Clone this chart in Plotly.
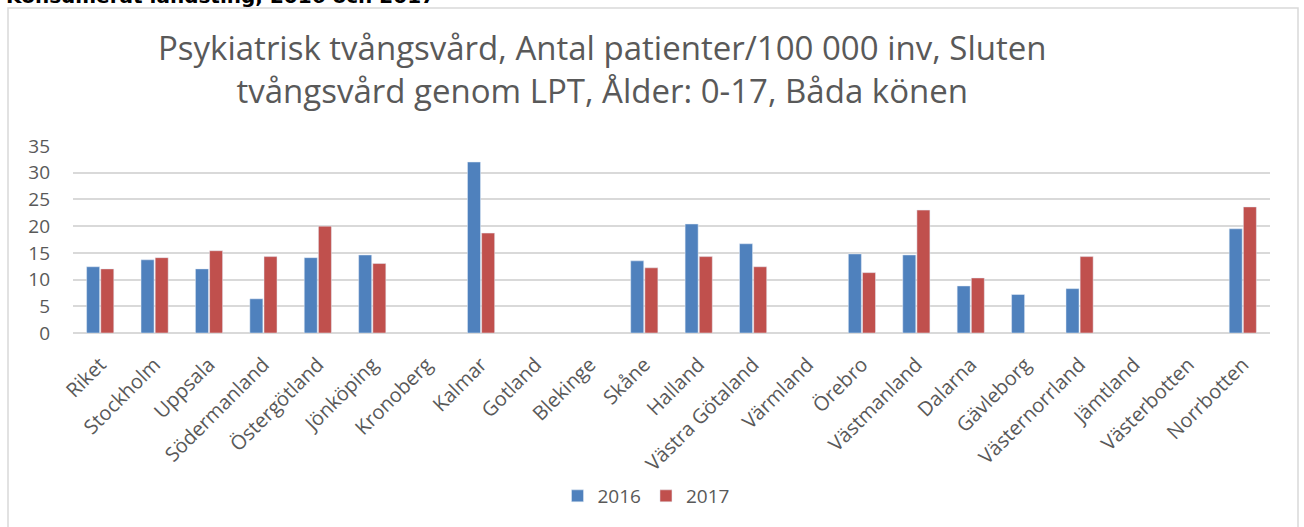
import plotly.graph_objects as go

# Landsting (kategorier)
landsting = ["Riket", "Stockholm", "Uppsala", "Södermanland", "Östergötland", "Jönköping",
             "Kronoberg", "Kalmar", "Gotland", "Blekinge", "Skåne", "Halland",
             "Västra Götaland", "Värmland", "Örebro", "Västmanland", "Dalarna",
             "Gävleborg", "Västernorrland", "Jämtland", "Västerbotten", "Norrbotten"]

# Antal patienter/100 000 inv
v2016 = [12.4, 13.7, 12.0, 6.4, 14.1, 14.6, None, 32.0, None, None, 13.5, 20.4,
         16.7, None, 14.8, 14.6, 8.8, 7.2, 8.3, None, None, 19.5]
v2017 = [12.0, 14.1, 15.4, 14.3, 20.0, 13.0, None, 18.7, None, None, 12.2, 14.3,
         12.4, None, 11.3, 23.0, 10.3, None, 14.3, None, None, 23.6]

y_ticks = [0, 5, 10, 15, 20, 25, 30, 35]

W, H = 1304, 527
L, R, T, B = 73, 34, 146, 194
pw, ph = W - L - R, H - T - B

def px_x(p):
    return (p - L) / pw

def px_y(p):
    return (H - B - p) / ph

txt = "#595959"
font = "Open Sans, Liberation Sans, Arial"

fig = go.Figure()
fig.add_trace(go.Bar(x=landsting, y=v2016, name="2016", marker_color="#4f81bd"))
fig.add_trace(go.Bar(x=landsting, y=v2017, name="2017", marker_color="#c0504d"))

fig.update_layout(
    width=W, height=H,
    margin=dict(l=L, r=R, t=T, b=B),
    paper_bgcolor="white", plot_bgcolor="white",
    barmode="group", bargap=0.48, bargroupgap=0.08,
    font=dict(family=font, color=txt, size=18),
    showlegend=True,
    legend=dict(orientation="h", x=px_x(646), xanchor="center", y=px_y(496), yanchor="middle",
                font=dict(size=19, color=txt), itemwidth=30, traceorder="normal"),
    xaxis=dict(tickangle=-45, showgrid=False, showline=False, ticks="", ticklabelstandoff=15,
               tickfont=dict(size=20, color=txt)),
    yaxis=dict(range=[0, 35], tickvals=y_ticks, showgrid=True, gridcolor="#d9d9d9",
               gridwidth=2, zeroline=True, zerolinecolor="#d9d9d9", zerolinewidth=2,
               showline=False, ticks="", ticklabelstandoff=22,
               tickfont=dict(size=19, color=txt)),
)

# titel
fig.add_annotation(
    text="Psykiatrisk tvångsvård, Antal patienter/100 000 inv, Sluten<br>tvångsvård genom LPT, Ålder: 0-17, Båda könen",
    xref="paper", yref="paper", x=px_x(602), y=px_y(69), xanchor="center", yanchor="middle",
    showarrow=False, font=dict(size=33, color=txt, family=font), align="center",
)

# överskrift ovanför diagrammet (delvis avklippt)
fig.add_annotation(
    text="<b>Konsumerat landsting, 2016 och 2017</b>",
    xref="paper", yref="paper", x=px_x(4), y=px_y(-4), xanchor="left", yanchor="middle",
    showarrow=False, font=dict(size=20, color="black", family="DejaVu Sans, Verdana"),
)

# ram runt diagrammet
fig.add_shape(type="rect", xref="paper", yref="paper",
              x0=px_x(8), x1=px_x(1298), y0=px_y(540), y1=px_y(8),
              line=dict(color="#d9d9d9", width=1.5), fillcolor="rgba(0,0,0,0)", layer="below")

fig.write_html("out.html", config={"displayModeBar": False},
               post_script="document.body.style.margin='0px';")
